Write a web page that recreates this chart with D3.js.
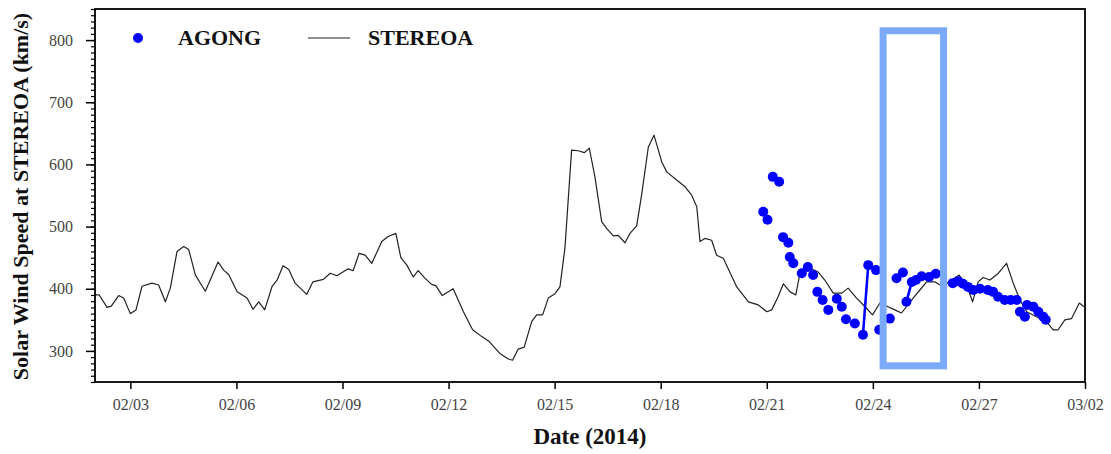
<!DOCTYPE html>
<html>
<head>
<meta charset="utf-8">
<script src="https://cdn.jsdelivr.net/npm/d3@7"></script>
<style>
  html, body { margin: 0; padding: 0; background: #fff; }
  svg { display: block; }
  .tick-lbl { font-family: "Liberation Serif", serif; font-size: 16px; fill: #444; }
  .big { font-family: "Liberation Serif", serif; font-weight: bold; font-size: 22px; fill: #111; }
</style>
</head>
<body>
<svg id="chart" width="1111" height="454"></svg>
<script>
  /* ── Data (day = fractional day of February 2014; 30 = 03/02) ─────────────── */
  const stereoDays = [
    2.01, 2.12, 2.34, 2.46, 2.67, 2.81, 3.00, 3.16, 3.33, 3.61, 3.80, 3.99, 4.13, 4.32, 4.51, 4.65,
    4.84, 5.12, 5.48, 5.64, 5.78, 6.02, 6.30, 6.47, 6.63, 6.80, 7.01, 7.15, 7.32, 7.48, 7.66, 7.99,
    8.16, 8.46, 8.65, 8.84, 9.16, 9.30, 9.47, 9.64, 9.83, 10.11, 10.29, 10.51, 10.65, 10.82, 11.00,
    11.14, 11.33, 11.52, 11.64, 11.82, 12.13, 12.42, 12.68, 12.94, 13.15, 13.45, 13.69, 13.81, 13.97,
    14.14, 14.35, 14.49, 14.66, 14.82, 15.01, 15.15, 15.29, 15.48, 15.67, 15.84, 15.98, 16.14, 16.33,
    16.47, 16.66, 16.80, 16.99, 17.13, 17.32, 17.46, 17.65, 17.81, 18.03, 18.17, 18.45, 18.69, 18.87,
    19.02, 19.11, 19.25, 19.44, 19.58, 19.77, 20.15, 20.48, 20.76, 21.00, 21.14, 21.32, 21.47, 21.66,
    21.82, 21.94, 22.17, 22.45, 22.64, 22.88, 23.12, 23.30, 23.54, 23.78, 23.99, 24.20, 24.43, 24.62,
    24.81, 25.14, 25.33, 25.52, 25.76, 25.90, 26.09, 26.44, 26.65, 26.82, 26.98, 27.12, 27.31, 27.55,
    27.78, 27.97, 28.16, 28.35, 28.72, 28.91, 29.10, 29.24, 29.43, 29.62, 29.84, 29.97
  ];
  const stereoSpeed = [
    390, 390, 370, 372, 389, 385, 360, 366, 404, 409, 406, 379, 401, 460, 468, 463,
    422, 396, 443, 430, 423, 395, 385, 367, 379, 366, 404, 414, 437, 431, 409, 391,
    411, 415, 425, 421, 432, 429, 457, 454, 441, 476, 484, 489, 450, 438, 419,
    429, 417, 407, 405, 389, 400, 363, 334, 323, 315, 296, 287, 285, 303,
    306, 347, 358, 358, 385, 392, 403, 465, 623, 622, 619, 626, 580, 508,
    497, 485, 486, 474, 489, 501, 551, 628, 647, 604, 588, 575, 564, 551,
    532, 476, 481, 478, 454, 449, 403, 379, 374, 363, 366, 387, 408, 395,
    390, 425, 435, 427, 414, 393, 393, 401, 385, 371, 358, 377, 371, 366,
    361, 385, 398, 411, 411, 406, 409, 422, 406, 379, 411, 418, 414, 425,
    441, 409, 382, 363, 352, 347, 334, 334, 350, 352, 377, 371
  ];

  const agongDays = [
    20.90, 21.02, 21.17, 21.35, 21.46, 21.61, 21.65, 21.75, 21.99, 22.16, 22.31, 22.43, 22.58,
    22.74, 22.98, 23.12, 23.24, 23.49, 23.72, 23.87, 24.09, 24.18, 24.48, 24.67, 24.85, 24.95,
    25.10, 25.22, 25.38, 25.59, 25.78, 26.26, 26.41, 26.55, 26.69, 26.84, 27.03, 27.25, 27.40,
    27.54, 27.73, 27.90, 28.07, 28.16, 28.30, 28.36, 28.54, 28.68, 28.82, 28.89
  ];
  const agongSpeed = [
    524, 511, 580, 572, 483, 474, 451, 441, 425, 435, 422, 395, 382,
    366, 384, 371, 351, 344, 326, 438, 430, 334, 352, 417, 426, 379,
    411, 414, 420, 419, 424, 409, 412, 408, 403, 398, 400, 398, 395,
    387, 382, 382, 382, 363, 355, 374, 371, 363, 355, 350
  ];
  // runs of AGONG samples joined by a line (index ranges, inclusive)
  const agongRuns = [[18, 20], [25, 30]];

  const highlightBox = { from: 24.29, to: 26.0, low: 276, high: 815 };

  const xTickLabels = ['02/03', '02/06', '02/09', '02/12', '02/15', '02/18', '02/21', '02/24', '02/27', '03/02'];
  const xTickDays   = [3, 6, 9, 12, 15, 18, 21, 24, 27, 30];
  const yTicks      = [300, 400, 500, 600, 700, 800];

  /* ── Layout ───────────────────────────────────────────────────────────────── */
  const M = { top: 9, right: 26, bottom: 72, left: 95 };
  const W = 1111 - M.left - M.right;
  const H = 454 - M.top - M.bottom;

  const toDate = d => new Date(Date.UTC(2014, 1, 1) + (d - 1) * 864e5);

  const svg = d3.select('#chart');
  const g = svg.append('g').attr('transform', `translate(${M.left},${M.top})`);

  const x = d3.scaleUtc().domain([toDate(2), toDate(30)]).range([0, W]);
  const y = d3.scaleLinear().domain([250, 850]).range([H, 0]);

  /* ── Axes ─────────────────────────────────────────────────────────────────── */
  const xAxis = g.append('g').attr('transform', `translate(0,${H})`)
    .call(d3.axisBottom(x).tickValues(xTickDays.map(toDate)).tickSize(7).tickPadding(10)
      .tickFormat((d, i) => xTickLabels[i]));
  xAxis.select('.domain').remove();
  xAxis.selectAll('line').attr('stroke', '#000').attr('stroke-width', 1.5);
  xAxis.selectAll('text').attr('class', 'tick-lbl');

  const yMinor = g.append('g')
    .call(d3.axisLeft(y).tickValues(y.ticks(60)).tickSize(4).tickFormat(''));
  yMinor.select('.domain').remove();
  yMinor.selectAll('line').attr('stroke', '#000').attr('stroke-width', 1.2);

  const yAxis = g.append('g')
    .call(d3.axisLeft(y).tickValues(yTicks).tickSize(9).tickPadding(13));
  yAxis.select('.domain').remove();
  yAxis.selectAll('line').attr('stroke', '#000').attr('stroke-width', 1.5);
  yAxis.selectAll('text').attr('class', 'tick-lbl');

  /* ── STEREOA line ─────────────────────────────────────────────────────────── */
  const stereo = stereoDays.map((d, i) => ({ t: toDate(d), v: stereoSpeed[i] }));
  const line = d3.line().x(d => x(d.t)).y(d => y(d.v));

  g.append('path').datum(stereo)
    .attr('d', line)
    .attr('fill', 'none')
    .attr('stroke', '#222')
    .attr('stroke-width', 1.2)
    .attr('stroke-linejoin', 'round');

  /* ── AGONG points ─────────────────────────────────────────────────────────── */
  const agong = agongDays.map((d, i) => ({ t: toDate(d), v: agongSpeed[i] }));

  agongRuns.forEach(([a, b]) => {
    g.append('path').datum(agong.slice(a, b + 1))
      .attr('d', line)
      .attr('fill', 'none')
      .attr('stroke', '#0000ff')
      .attr('stroke-width', 2.6);
  });

  g.append('g').selectAll('circle').data(agong).join('circle')
    .attr('cx', d => x(d.t))
    .attr('cy', d => y(d.v))
    .attr('r', 5)
    .attr('fill', '#0000ff');

  /* ── Highlight box ────────────────────────────────────────────────────────── */
  g.append('rect')
    .attr('x', x(toDate(highlightBox.from)))
    .attr('y', y(highlightBox.high))
    .attr('width', x(toDate(highlightBox.to)) - x(toDate(highlightBox.from)))
    .attr('height', y(highlightBox.low) - y(highlightBox.high))
    .attr('fill', 'none')
    .attr('stroke', '#7aaaf9')
    .attr('stroke-width', 7);

  /* ── Frame ────────────────────────────────────────────────────────────────── */
  g.append('rect')
    .attr('width', W).attr('height', H)
    .attr('fill', 'none').attr('stroke', '#000').attr('stroke-width', 1.8);

  /* ── Legend ───────────────────────────────────────────────────────────────── */
  const leg = g.append('g').attr('transform', 'translate(0,29)');
  leg.append('circle').attr('cx', 43).attr('cy', 0).attr('r', 5).attr('fill', '#0000ff');
  leg.append('text').attr('class', 'big').attr('x', 83).attr('y', 7).text('AGONG');
  leg.append('line').attr('x1', 213).attr('x2', 255).attr('y1', 0).attr('y2', 0)
    .attr('stroke', '#222').attr('stroke-width', 1.1);
  leg.append('text').attr('class', 'big').attr('x', 273).attr('y', 7).text('STEREOA');

  /* ── Axis labels ──────────────────────────────────────────────────────────── */
  g.append('text').attr('class', 'big')
    .attr('text-anchor', 'middle')
    .attr('x', W / 2).attr('y', H + 62)
    .style('font-size', '23px')
    .text('Date (2014)');

  g.append('text').attr('class', 'big')
    .attr('text-anchor', 'middle')
    .attr('transform', 'rotate(-90)')
    .attr('x', -H / 2 - 1).attr('y', -67)
    .text('Solar Wind Speed at STEREOA (km/s)');
</script>
</body>
</html>
